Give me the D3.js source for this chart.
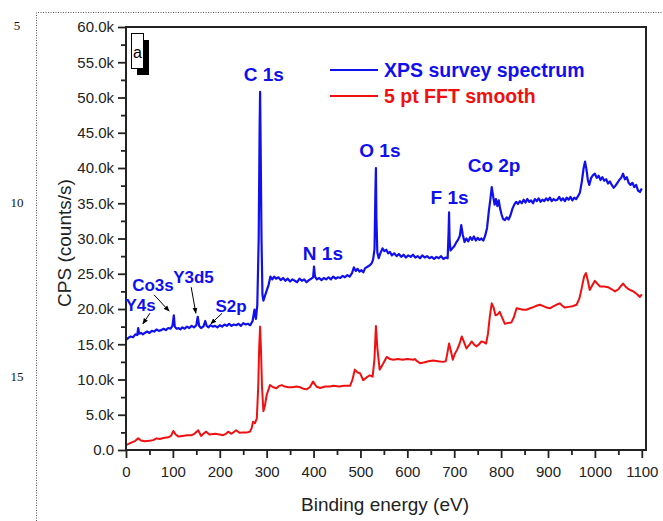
<!DOCTYPE html>
<html>
<head>
<meta charset="utf-8">
<script src="https://cdn.jsdelivr.net/npm/d3@7"></script>
<style>
  body { margin: 0; background: #fff; }
  svg { display: block; }
  .tick text { font-family: "Liberation Sans", Arial, sans-serif; font-size: 15px; fill: #222; }
  .lbl { font-family: "Liberation Sans", Arial, sans-serif; font-weight: bold; fill: #1010ee; }
</style>
</head>
<body>
<svg id="chart" width="663" height="521"></svg>
<script>
// XPS survey spectrum, [binding energy eV, counts/s in thousands]
let survey = [
  [0,15.6],[5,15.9],[10,16.1],[15,16.0],[20,16.4],[24,16.3],[26,17.3],[28,16.5],[32,16.6],[36,16.4],
  [40,16.6],[45,16.8],[50,16.6],[55,16.9],[60,16.8],[65,17.1],[70,16.9],[75,17.0],[80,17.2],[85,17.0],
  [90,17.3],[95,17.2],[99,17.6],[102,19.1],[104,17.5],[108,17.2],[112,17.3],[116,17.1],[120,17.4],[125,17.2],
  [130,17.5],[135,17.3],[140,17.6],[145,17.4],[150,17.7],[153,18.9],[156,17.6],[160,17.3],[165,17.5],[169,18.3],
  [172,17.6],[176,17.4],[180,17.7],[185,17.5],[190,17.6],[195,17.4],[200,17.7],[205,17.5],[210,17.8],[215,17.6],
  [220,17.9],[225,17.6],[230,17.8],[235,17.7],[240,17.9],[245,17.6],[250,18.0],[255,17.8],[260,17.9],[265,17.7],
  [270,18.3],[274,19.9],[277,18.6],[280,20.5],[283,30.0],[285,46.0],[286,50.8],[287,44.0],[289,30.0],[291,22.0],
  [293,21.2],[296,21.8],[300,22.6],[304,23.4],[308,24.6],[312,24.2],[316,24.6],[320,24.3],[325,24.5],[330,24.1],
  [335,24.4],[340,24.0],[345,24.3],[350,23.9],[355,24.2],[360,24.0],[365,23.8],[370,24.3],[375,24.0],[380,24.2],
  [385,23.8],[390,24.1],[395,24.3],[399,24.5],[401,26.0],[403,24.6],[407,24.2],[412,24.4],[417,24.1],[422,24.4],
  [427,24.2],[432,24.5],[437,24.2],[442,24.6],[447,24.3],[452,24.5],[457,24.4],[462,24.7],[467,24.5],[472,24.8],
  [477,24.6],[482,25.1],[486,25.9],[490,25.4],[494,25.7],[498,25.3],[502,25.5],[506,25.2],[510,25.8],[515,26.0],
  [520,26.2],[524,26.5],[527,27.0],[530,28.5],[532,37.0],[533,40.0],[534,33.0],[536,28.0],[539,27.2],[543,28.0],
  [547,28.6],[551,28.2],[555,28.4],[559,27.9],[563,28.1],[567,27.6],[572,27.9],[577,27.5],[582,27.8],[587,27.4],
  [592,27.7],[597,27.3],[602,27.6],[607,27.4],[612,27.7],[617,27.3],[622,27.5],[627,27.2],[632,27.6],[637,27.3],
  [642,27.5],[647,27.2],[652,27.4],[657,27.1],[662,27.4],[667,27.2],[672,27.5],[677,27.1],[682,27.3],[686,27.2],
  [688,31.0],[689,33.7],[690,30.0],[692,28.3],[696,28.6],[700,28.9],[704,29.4],[708,29.8],[712,30.4],[715,31.9],
  [718,30.6],[722,29.5],[726,30.0],[730,29.6],[734,30.2],[738,29.8],[742,30.3],[746,29.7],[750,30.1],[754,29.8],
  [758,30.0],[762,29.7],[766,30.4],[770,31.5],[774,34.0],[777,35.5],[780,37.3],[783,36.0],[786,34.8],[789,35.6],
  [792,34.6],[795,35.4],[798,34.2],[801,33.4],[804,32.8],[808,32.6],[812,33.0],[816,32.7],[820,33.3],[824,34.2],
  [828,34.8],[832,35.2],[836,34.9],[840,35.3],[844,35.0],[848,35.5],[852,35.1],[856,35.6],[860,35.2],[864,35.4],
  [868,35.0],[872,35.6],[876,35.3],[880,35.7],[884,35.2],[888,35.5],[892,35.3],[896,35.7],[900,35.4],[904,35.8],
  [908,35.3],[912,35.6],[916,35.4],[920,35.5],[924,35.9],[928,35.4],[932,35.7],[936,35.3],[940,35.8],[944,35.5],
  [948,35.9],[952,35.4],[956,35.8],[960,35.6],[964,36.0],[968,36.5],[972,38.0],[976,40.0],[979,40.9],[982,39.8],
  [985,38.3],[988,37.6],[992,38.6],[996,39.0],[1000,39.2],[1004,38.6],[1008,38.9],[1012,38.3],[1016,38.7],[1020,38.2],
  [1024,38.4],[1028,37.8],[1032,38.1],[1036,37.6],[1040,37.2],[1044,37.5],[1048,37.9],[1052,38.3],[1056,38.6],[1060,39.2],
  [1064,38.4],[1068,38.7],[1072,37.9],[1076,37.6],[1080,37.9],[1084,37.3],[1088,37.6],[1092,36.8],[1096,36.6],[1100,37.1]
];

// 5 pt FFT smooth
let smooth = [
  [0,0.7],[10,1.0],[20,1.3],[26,1.65],[32,1.35],[40,1.25],[50,1.3],[58,1.4],[65,1.65],[72,1.55],
  [80,1.7],[90,1.8],[96,2.0],[101,2.7],[106,2.2],[112,1.9],[120,2.0],[130,2.1],[140,2.1],[146,2.3],
  [154,2.8],[160,2.0],[165,2.3],[171,2.6],[178,2.2],[190,2.3],[200,2.2],[207,2.1],[213,2.3],[218,2.6],
  [225,2.3],[235,2.8],[242,2.45],[250,2.5],[258,2.5],[264,2.6],[268,3.1],[271,4.0],[275,3.8],[279,4.5],
  [282,9.0],[284,14.5],[286,17.5],[288,14.0],[290,9.0],[293,5.5],[296,6.2],[300,7.8],[307,9.2],[314,8.9],
  [321,8.75],[327,9.1],[332,9.2],[339,9.0],[346,8.9],[355,8.9],[364,9.0],[371,8.9],[378,8.7],[385,8.6],
  [392,8.9],[399,9.7],[406,9.0],[414,8.8],[425,9.0],[435,9.0],[442,9.1],[455,9.0],[465,9.1],[478,9.1],
  [483,10.0],[488,11.4],[494,11.0],[499,10.9],[506,9.9],[513,10.3],[520,10.6],[526,10.4],[530,13.0],[533,17.6],
  [536,14.5],[541,11.4],[548,12.2],[556,13.2],[563,12.9],[570,12.8],[580,12.9],[590,12.8],[600,12.9],[613,12.8],
  [616,12.9],[621,12.6],[627,12.3],[635,12.4],[645,12.6],[655,12.7],[665,12.6],[676,12.5],[682,12.6],[685,13.6],
  [689,15.1],[693,14.0],[697,12.8],[701,13.6],[706,14.2],[711,15.0],[716,16.1],[721,15.3],[726,14.4],[732,14.9],
  [737,15.4],[743,14.9],[748,14.7],[753,15.0],[758,15.4],[763,15.3],[768,15.1],[772,16.5],[776,19.0],[780,20.8],
  [784,20.2],[788,19.1],[792,19.2],[797,19.6],[802,18.8],[808,17.9],[814,18.0],[822,18.1],[827,18.8],[833,20.1],
  [840,20.0],[847,19.9],[854,19.9],[862,20.1],[870,20.3],[877,20.5],[883,20.6],[890,20.4],[897,20.2],[904,20.1],
  [912,20.4],[918,20.6],[925,20.8],[930,20.5],[936,20.2],[944,20.3],[952,20.4],[961,20.6],[967,21.5],[972,23.0],
  [977,24.6],[981,25.1],[985,24.0],[989,22.7],[994,23.3],[1000,24.0],[1005,23.6],[1011,23.2],[1020,23.2],[1028,23.1],
  [1036,22.8],[1043,22.5],[1050,22.8],[1056,23.3],[1060,23.6],[1065,23.2],[1070,22.9],[1075,22.7],[1082,22.5],[1090,22.1],
  [1096,21.7],[1100,22.1]
];

let xTicks = d3.range(0, 1101, 100);
let xMinor = d3.range(50, 1100, 100);
let yTicks = d3.range(0, 60.1, 5);
let yMinor = d3.range(2.5, 60, 5);

// peak labels: text, energy, cps (k) at label baseline
let peaks = [
  ["C 1s", 294, 52.3], ["O 1s", 541.5, 41.6], ["Co 2p", 785, 39.4],
  ["F 1s", 690, 34.9], ["N 1s", 420, 27.0]
];
// small labels with arrows: text, label x, label y, arrow from, arrow to
let minorPeaks = [
  ["Y4s", 31, 19.7, [51, 19.4], [36, 17.9]],
  ["Co3s", 57.5, 22.55, [60, 22.0], [92, 19.7]],
  ["Y3d5", 144, 23.7, [139, 23.1], [149, 19.4]],
  ["S2p", 224, 19.6, [205, 19.4], [181, 17.9]]
];

const svg = d3.select("#chart");
const mLeft = 126, mRight = 646, mTop = 27, mBottom = 450;

let x = d3.scaleLinear().domain([0, 1109]).range([mLeft, mRight]);
let y = d3.scaleLinear().domain([0, 60]).range([mBottom, mTop]);

// page decoration: dotted margin and line numbers
svg.append("path")
    .attr("d", "M36.5,521V12.5H663")
    .attr("fill", "none").attr("stroke", "#555").attr("stroke-width", 1)
    .attr("stroke-dasharray", "1,1.5");
[["5", 30], ["10", 207], ["15", 381]].forEach(d => {
    svg.append("text").attr("x", 17).attr("y", d[1]).attr("text-anchor", "middle")
        .style("font-family", "'Liberation Serif', serif").style("font-size", "13px")
        .attr("fill", "#111")
        .text(d[0]);
});

let lineGen = d3.line().x(d => x(d[0])).y(d => y(d[1]));

svg.append("path").datum(smooth)
    .attr("d", lineGen).attr("fill", "none")
    .attr("stroke", "#f01010").attr("stroke-width", 2).attr("stroke-linejoin", "round");
svg.append("path").datum(survey)
    .attr("d", lineGen).attr("fill", "none")
    .attr("stroke", "#1010ee").attr("stroke-width", 2.2).attr("stroke-linejoin", "round");

// axes
let yFmt = d => d === 0 ? "0.0" : d.toFixed(1) + "k";
svg.append("g").attr("transform", `translate(${mLeft},0)`)
    .call(d3.axisLeft(y).tickValues(yTicks).tickFormat(yFmt).tickSize(8).tickPadding(4));
svg.append("g").attr("transform", `translate(${mLeft},0)`)
    .call(d3.axisLeft(y).tickValues(yMinor).tickFormat("").tickSize(5));
svg.append("g").attr("transform", `translate(0,${mBottom})`)
    .call(d3.axisBottom(x).tickValues(xTicks).tickFormat(d3.format("d")).tickSize(8).tickPadding(8));
svg.append("g").attr("transform", `translate(0,${mBottom})`)
    .call(d3.axisBottom(x).tickValues(xMinor).tickFormat("").tickSize(5));
svg.selectAll(".domain").remove();
svg.selectAll(".tick line").attr("stroke", "#222").attr("stroke-width", 1.8);

svg.append("rect")
    .attr("x", mLeft).attr("y", mTop).attr("width", mRight - mLeft).attr("height", mBottom - mTop)
    .attr("fill", "none").attr("stroke", "#222").attr("stroke-width", 2);

// axis titles
svg.append("text").attr("x", 385).attr("y", 511).attr("text-anchor", "middle")
    .style("font-family", "'Liberation Sans', Arial, sans-serif").style("font-size", "19px").attr("fill", "#222")
    .text("Binding energy (eV)");
svg.append("text").attr("transform", "translate(71,243) rotate(-90)").attr("text-anchor", "middle")
    .style("font-family", "'Liberation Sans', Arial, sans-serif").style("font-size", "19px").attr("fill", "#222")
    .text("CPS (counts/s)");

// panel tag "a"
svg.append("rect").attr("x", 137).attr("y", 40).attr("width", 12).attr("height", 35).attr("fill", "#000");
svg.append("rect").attr("x", 131.5).attr("y", 33.5).attr("width", 12).attr("height", 35)
    .attr("fill", "#fff").attr("stroke", "#000").attr("stroke-width", 1);
svg.append("text").attr("x", 133).attr("y", 58)
    .style("font-family", "'Liberation Sans', Arial, sans-serif").style("font-size", "16px")
    .text("a");

// legend
let legend = [["XPS survey spectrum", "#1010ee", 70], ["5 pt FFT smooth", "#f01010", 96]];
legend.forEach(d => {
    svg.append("line").attr("x1", 330).attr("x2", 378).attr("y1", d[2]).attr("y2", d[2])
        .attr("stroke", d[1]).attr("stroke-width", 2);
    svg.append("text").attr("class", "lbl").attr("x", 384).attr("y", d[2] + 7)
        .style("font-size", "19.5px").style("fill", d[1])
        .text(d[0]);
});

// peak labels
svg.selectAll(".peak").data(peaks).enter().append("text")
    .attr("class", "lbl peak")
    .attr("x", d => x(d[1])).attr("y", d => y(d[2]))
    .attr("text-anchor", "middle").style("font-size", "19px")
    .text(d => d[0]);

svg.append("defs").append("marker")
    .attr("id", "arrow").attr("viewBox", "0 0 10 10").attr("refX", 9).attr("refY", 5)
    .attr("markerWidth", 6).attr("markerHeight", 6).attr("orient", "auto")
    .append("path").attr("d", "M0,1L10,5L0,9z").attr("fill", "#000");

svg.selectAll(".minor").data(minorPeaks).enter().append("text")
    .attr("class", "lbl minor")
    .attr("x", d => x(d[1])).attr("y", d => y(d[2]))
    .attr("text-anchor", "middle").style("font-size", "17px")
    .text(d => d[0]);
svg.selectAll(".arr").data(minorPeaks).enter().append("line")
    .attr("class", "arr")
    .attr("x1", d => x(d[3][0])).attr("y1", d => y(d[3][1]))
    .attr("x2", d => x(d[4][0])).attr("y2", d => y(d[4][1]))
    .attr("stroke", "#000").attr("stroke-width", 1)
    .attr("marker-end", "url(#arrow)");
</script>
</body>
</html>
